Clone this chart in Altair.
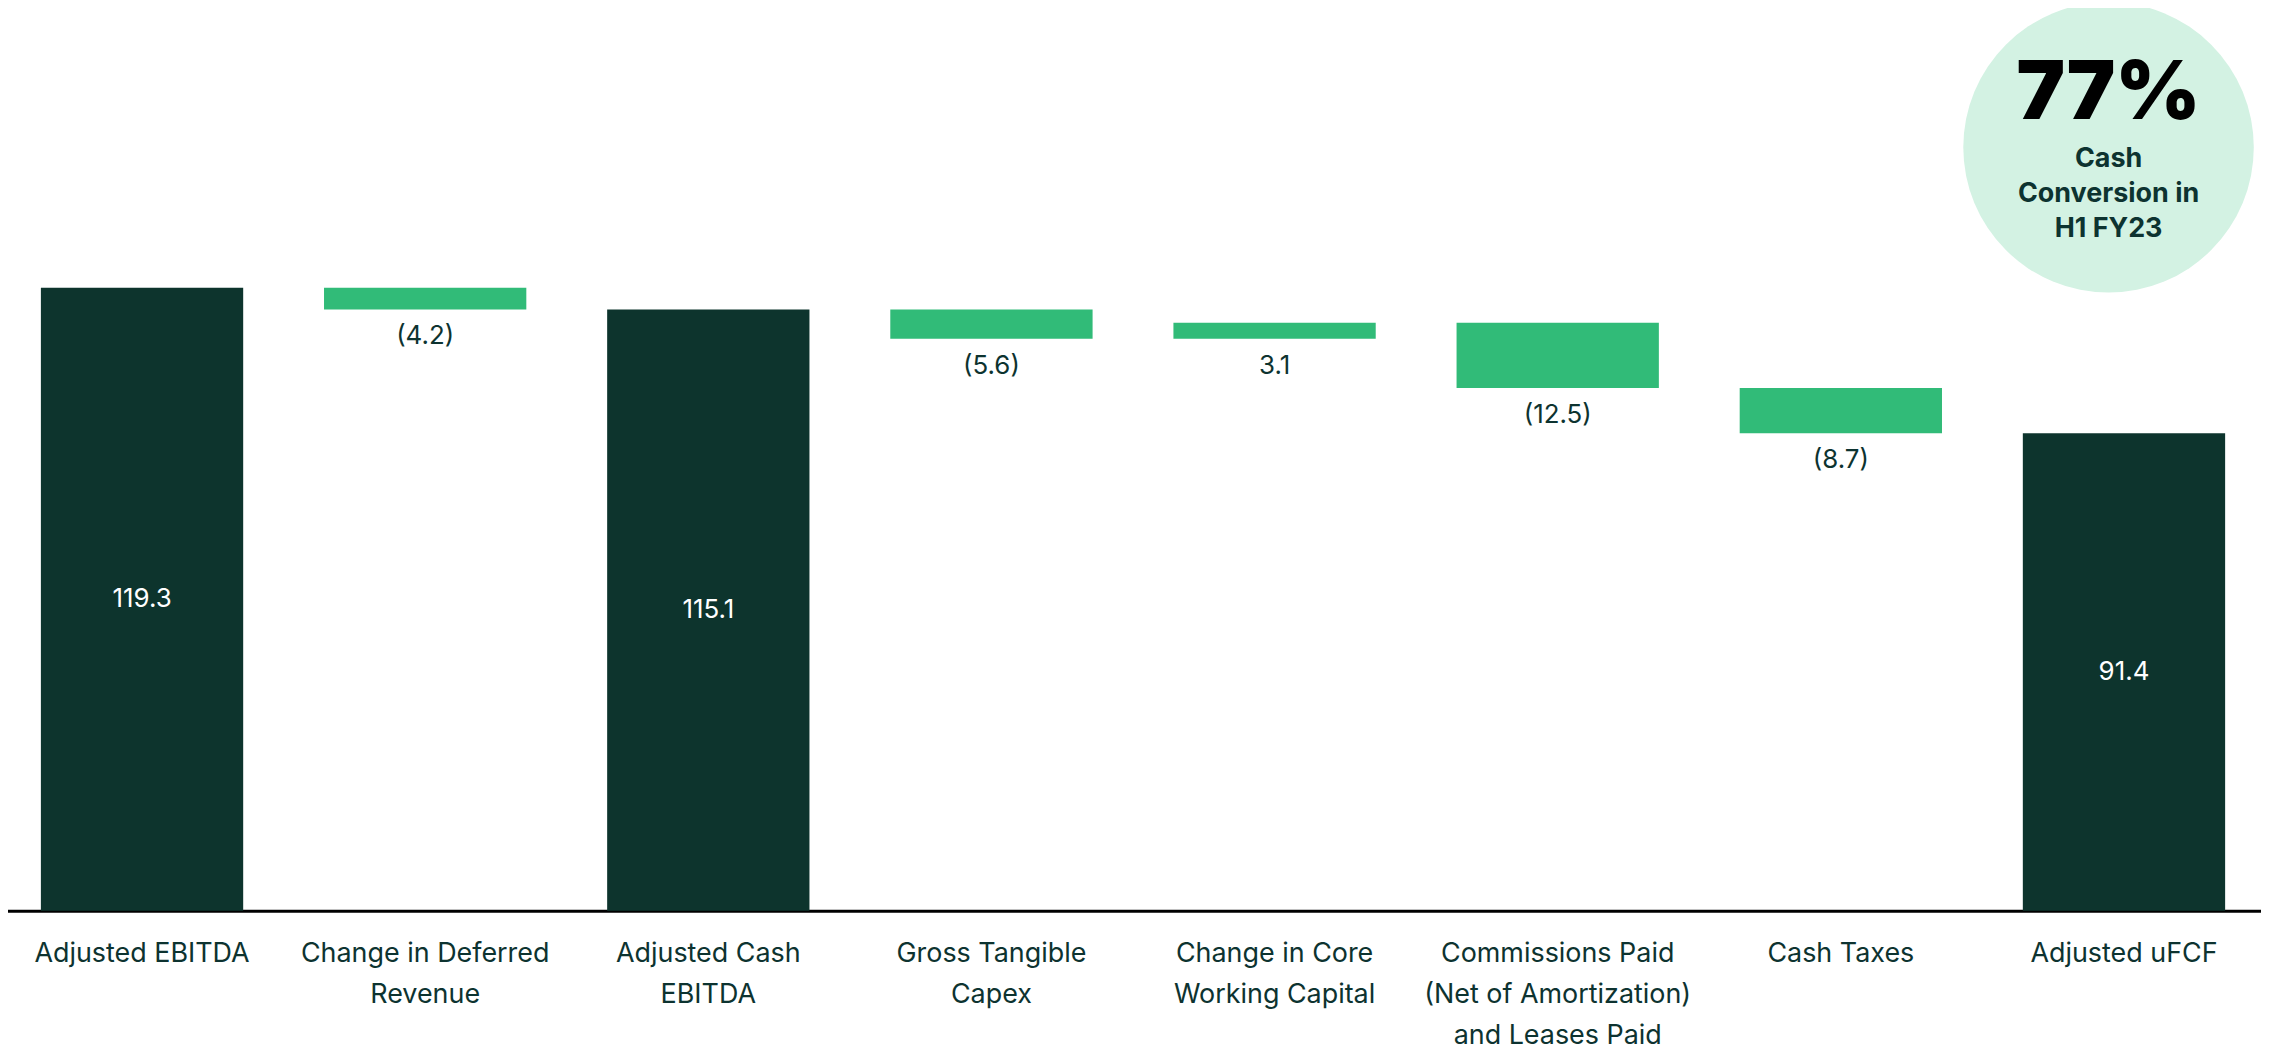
import altair as alt
import pandas as pd

categories = [
    "Adjusted EBITDA",
    "Change in Deferred|Revenue",
    "Adjusted Cash|EBITDA",
    "Gross Tangible|Capex",
    "Change in Core|Working Capital",
    "Commissions Paid|(Net of Amortization)|and Leases Paid",
    "Cash Taxes",
    "Adjusted uFCF",
]
values = [119.3, -4.2, 115.1, -5.6, 3.1, -12.5, -8.7, 91.4]
kinds = ["total", "delta", "total", "delta", "delta", "delta", "delta", "total"]
badge_big = "77%"
badge_small = "Cash\nConversion in\nH1 FY23"

DARK = "#0d342d"
GREEN = "#31bb78"
TEXT = "#0d3330"
FONT = "Inter"

rows = []
running = 0.0
for c, v, k in zip(categories, values, kinds):
    if k == "total":
        start, end = 0.0, v
        running = v
    else:
        start, end = running, running + v
        running = end
    lo, hi = min(start, end), max(start, end)
    lab = f"({abs(v):.1f})" if v < 0 else f"{v:.1f}"
    rows.append({"cat": c, "start": start, "end": end, "lo": lo, "hi": hi,
                 "mid": (lo + hi) / 2, "kind": k, "label": lab})
df = pd.DataFrame(rows)

W, H = 2261, 904
xscale = alt.Scale(domain=categories, range=[-8, 2266], paddingInner=0.2855, paddingOuter=0.1443)
yscale = alt.Scale(domain=[0, 172.5], nice=False, zero=False)

xaxis = alt.Axis(labelExpr="split(datum.value, '|')", labelAngle=0,
                 labelFontSize=27, labelColor=TEXT, labelFont=FONT,
                 labelLineHeight=41, labelPadding=43, labelBaseline="middle",
                 ticks=False, domainColor="#000000", domainWidth=3,
                 labelLimit=400, grid=False)
x = alt.X("cat:N", scale=xscale, sort=categories, title=None, axis=xaxis)

base = alt.Chart(df)

bars = base.mark_bar().encode(
    x=x,
    y=alt.Y("start:Q", scale=yscale, axis=None),
    y2="end:Q",
    color=alt.Color("kind:N", scale=alt.Scale(domain=["total", "delta"], range=[DARK, GREEN]), legend=None),
)

tot_labels = base.transform_filter("datum.kind == 'total'").mark_text(
    color="white", fontSize=26, font=FONT, baseline="middle"
).encode(x=x, y=alt.Y("mid:Q", scale=yscale, axis=None), text="label:N")

delta_labels = base.transform_filter("datum.kind == 'delta'").mark_text(
    color=TEXT, fontSize=26, font=FONT, baseline="middle", dy=27
).encode(x=x, y=alt.Y("lo:Q", scale=yscale, axis=None), text="label:N")

badge_df = pd.DataFrame({"k": ["badge"]})
circle = alt.Chart(badge_df).mark_point(
    shape="circle", filled=True, color="#d3f2e3", opacity=1, size=85000
).encode(x=alt.value(2108), y=alt.value(138))

big = alt.Chart(badge_df).mark_text(
    fontSize=82, fontWeight=900, font=FONT, color="#000000", baseline="alphabetic"
).encode(x=alt.value(2108), y=alt.value(110), text=alt.value(badge_big))

small = alt.Chart(badge_df).mark_text(
    fontSize=27, fontWeight="bold", font=FONT, color=TEXT, baseline="alphabetic",
    lineBreak="\n", lineHeight=35
).encode(x=alt.value(2108), y=alt.value(158), text=alt.value(badge_small))

chart = alt.layer(bars, tot_labels, delta_labels, circle, big, small).properties(
    width=W, height=H,
    padding={"left": 0, "top": 0, "right": 0, "bottom": 141},
    autosize=alt.AutoSizeParams(type="none"),
).configure_view(stroke=None)

chart.save("out.html", embed_options={"renderer": "svg", "actions": False})
